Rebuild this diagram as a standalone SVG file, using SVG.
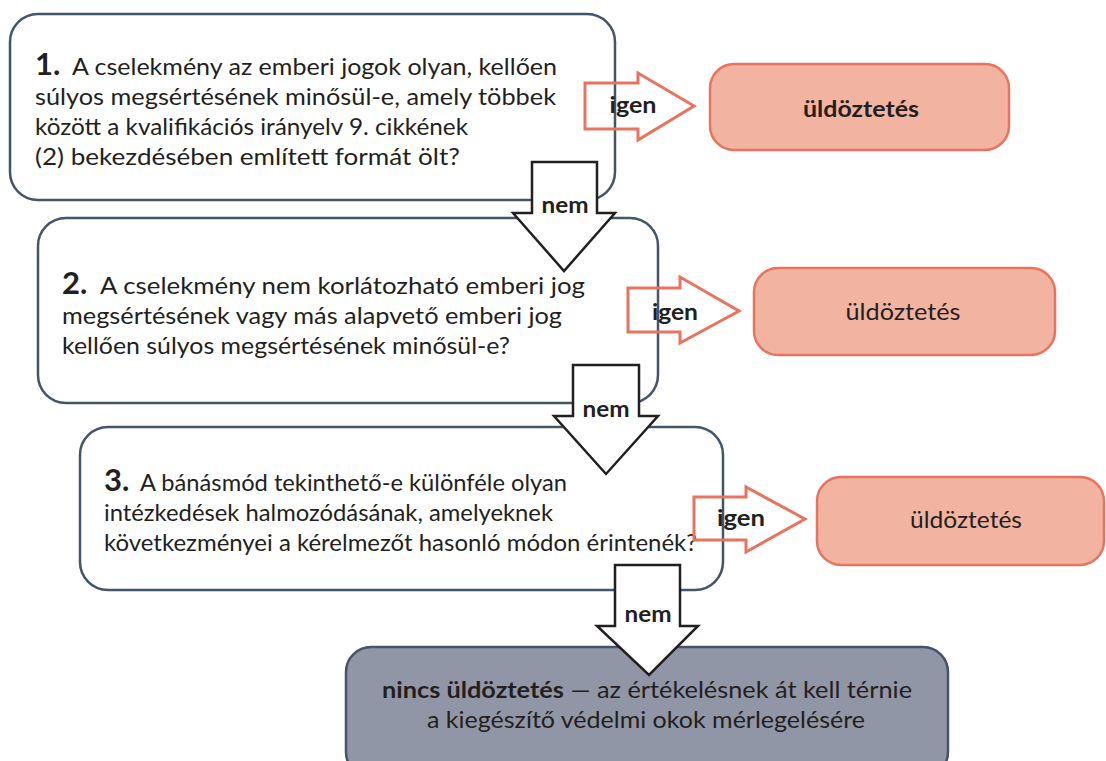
<svg xmlns="http://www.w3.org/2000/svg" width="1106" height="761" viewBox="0 0 1106 761">
<style>
.q{fill:#fff;stroke:#44546a;stroke-width:2.5}
.r{fill:#f2b4a0;stroke:#e8735e;stroke-width:2.5}
.g{fill:#9196a6;stroke:#44546a;stroke-width:2.5}
.ya{fill:none;stroke:#e8735e;stroke-width:3}
.na{fill:#fff;stroke:#231f20;stroke-width:2.5}
text{font-family:Lato,"Noto Sans",sans-serif;fill:#231f20}
.t{font-size:23px}
.n{font-size:31px;font-weight:bold}
.b{font-weight:bold}
.l{font-size:23px;font-weight:bold}
</style>
<rect width="1106" height="761" fill="#fff"/>
<g id="q1">
<rect class="q" x="10" y="14" width="605" height="186" rx="28"/>
<text class="n" x="35" y="75">1.</text>
<text class="t" x="72" y="75" textLength="485" lengthAdjust="spacingAndGlyphs">A cselekmény az emberi jogok olyan, kellően</text>
<text class="t" x="35" y="105" textLength="521" lengthAdjust="spacingAndGlyphs">súlyos megsértésének minősül-e, amely többek</text>
<text class="t" x="35" y="135" textLength="433" lengthAdjust="spacingAndGlyphs">között a kvalifikációs irányelv 9. cikkének</text>
<text class="t" x="35" y="165" textLength="425" lengthAdjust="spacingAndGlyphs">(2) bekezdésében említett formát ölt?</text>
</g>
<g id="q2">
<rect class="q" x="38" y="218" width="620" height="185" rx="28"/>
<text class="n" x="62" y="294">2.</text>
<text class="t" x="100" y="294" textLength="485" lengthAdjust="spacingAndGlyphs">A cselekmény nem korlátozható emberi jog</text>
<text class="t" x="62" y="324" textLength="500" lengthAdjust="spacingAndGlyphs">megsértésének vagy más alapvető emberi jog</text>
<text class="t" x="62" y="354" textLength="448" lengthAdjust="spacingAndGlyphs">kellően súlyos megsértésének minősül-e?</text>
</g>
<g id="q3">
<rect class="q" x="80" y="427" width="643" height="163" rx="28"/>
<text class="n" x="104" y="491">3.</text>
<text class="t" x="140" y="491" textLength="427" lengthAdjust="spacingAndGlyphs">A bánásmód tekinthető-e különféle olyan</text>
<text class="t" x="104" y="521" textLength="449" lengthAdjust="spacingAndGlyphs">intézkedések halmozódásának, amelyeknek</text>
<text class="t" x="104" y="551" textLength="593" lengthAdjust="spacingAndGlyphs">következményei a kérelmezőt hasonló módon érintenék?</text>
</g>
<g id="r1">
<rect class="r" x="710" y="64" width="299" height="86" rx="24"/>
<text class="t b" x="861" y="117" text-anchor="middle" textLength="116" lengthAdjust="spacingAndGlyphs">üldöztetés</text>
</g>
<g id="r2">
<rect class="r" x="754" y="268" width="301" height="87" rx="24"/>
<text class="t" x="903" y="320" text-anchor="middle" textLength="115" lengthAdjust="spacingAndGlyphs">üldöztetés</text>
</g>
<g id="r3">
<rect class="r" x="817" y="477" width="287" height="88" rx="24"/>
<text class="t" x="966" y="528" text-anchor="middle" textLength="112" lengthAdjust="spacingAndGlyphs">üldöztetés</text>
</g>
<g id="end">
<rect class="g" x="346" y="647" width="602" height="130" rx="25"/>
<text class="t" x="647" y="698" text-anchor="middle" textLength="530" lengthAdjust="spacingAndGlyphs"><tspan class="b">nincs üldöztetés</tspan> — az értékelésnek át kell térnie</text>
<text class="t" x="646" y="728" text-anchor="middle" textLength="438" lengthAdjust="spacingAndGlyphs">a kiegészítő védelmi okok mérlegelésére</text>
</g>
<g id="connectors">
<polygon class="ya" points="585,83 638,83 638,73 694,106 638,140 638,129 585,129"/>
<text class="l" x="633" y="113" text-anchor="middle" textLength="47" lengthAdjust="spacingAndGlyphs">igen</text>
<polygon class="ya" points="628,288 680,288 680,277 739,311 680,343 680,332 628,332"/>
<text class="l" x="675" y="320" text-anchor="middle" textLength="46" lengthAdjust="spacingAndGlyphs">igen</text>
<polygon class="ya" points="694,497 746,497 746,487 805,519 746,552 746,540 694,540"/>
<text class="l" x="741" y="526" text-anchor="middle" textLength="48" lengthAdjust="spacingAndGlyphs">igen</text>
<polygon class="na" points="532,162 597,162 597,213 615,213 564,271 513,213 532,213"/>
<text class="l" x="565" y="213" text-anchor="middle" textLength="47" lengthAdjust="spacingAndGlyphs">nem</text>
<polygon class="na" points="573,365 639,365 639,416 658,416 606,474 554,416 573,416"/>
<text class="l" x="606" y="417" text-anchor="middle" textLength="47" lengthAdjust="spacingAndGlyphs">nem</text>
<polygon class="na" points="615,565 680,565 680,626 698,626 649,675 597,626 615,626"/>
<text class="l" x="648" y="622" text-anchor="middle" textLength="47" lengthAdjust="spacingAndGlyphs">nem</text>
</g>
</svg>
